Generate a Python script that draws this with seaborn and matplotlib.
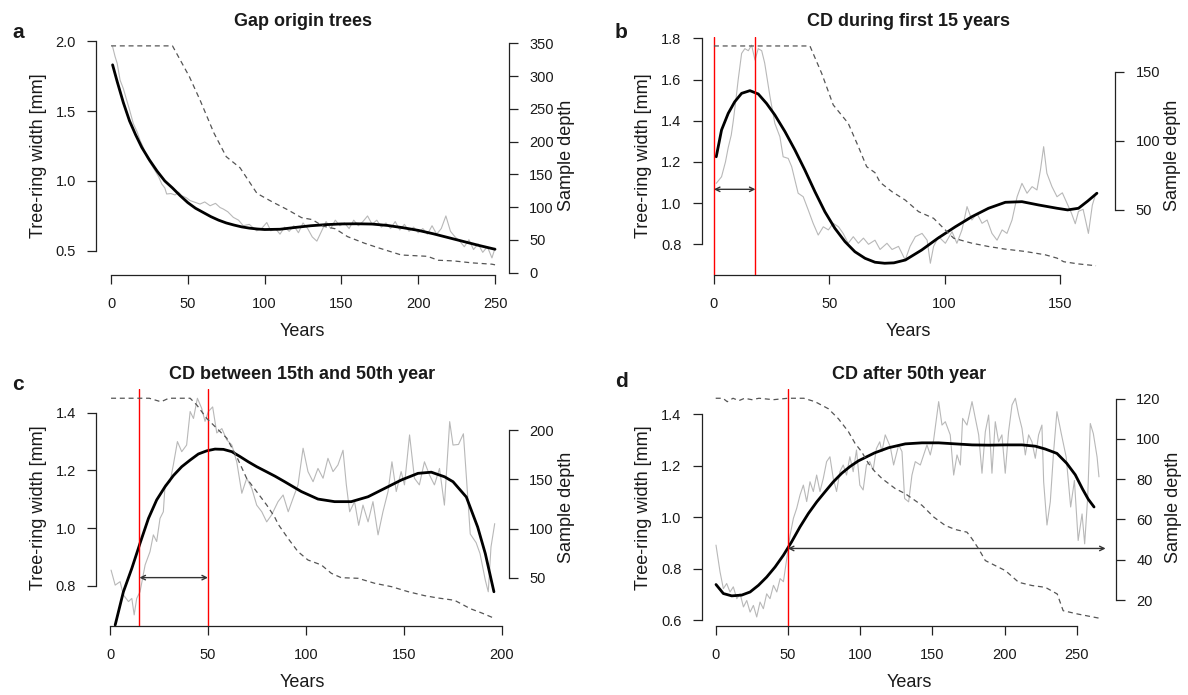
import matplotlib
matplotlib.use("Agg")
import matplotlib.pyplot as plt
import seaborn as sns

sns.set_style("ticks")
plt.rcParams["font.family"] = ["Liberation Sans", "DejaVu Sans"]

W, H = 1188, 695

# ---------------- panel a : gap origin trees ----------------
a_grey_yr = [1, 2.6, 4, 5.9, 8, 10.2, 12, 14.5, 17, 18.9, 21, 23.2, 26, 28.6, 31, 33, 35, 36.2,
             39, 41.7, 44, 46, 49, 51.4, 54, 57.9, 61, 64.5, 68, 71, 73, 76, 79.6, 83, 86.1, 90,
             94.8, 98, 101.4, 104, 107, 110, 113, 116, 119, 122, 125, 128, 131, 134, 137, 140,
             143, 146, 149, 152, 155, 158, 161, 164, 167, 170, 173, 176, 179, 182, 185, 188, 191,
             194, 197, 200, 203, 206, 209, 212, 215, 218, 221, 224, 227, 230, 233, 236, 239, 242,
             245, 248, 250]
a_grey_rw = [1.96, 1.89, 1.84, 1.72, 1.66, 1.577, 1.51, 1.41, 1.35, 1.29, 1.24, 1.17, 1.12, 1.074,
             1.03, 0.979, 0.95, 0.907, 0.91, 0.90, 0.92, 0.895, 0.88, 0.86, 0.85, 0.835, 0.85,
             0.823, 0.84, 0.81, 0.80, 0.78, 0.74, 0.72, 0.68, 0.69, 0.644, 0.66, 0.703, 0.644,
             0.66, 0.62, 0.67, 0.64, 0.68, 0.63, 0.70, 0.66, 0.60, 0.57, 0.64, 0.71, 0.66, 0.72,
             0.68, 0.70, 0.66, 0.72, 0.68, 0.71, 0.75, 0.69, 0.72, 0.67, 0.70, 0.66, 0.71, 0.65,
             0.69, 0.64, 0.67, 0.63, 0.66, 0.62, 0.68, 0.62, 0.66, 0.75, 0.64, 0.60, 0.57, 0.53,
             0.58, 0.51, 0.55, 0.49, 0.53, 0.45, 0.52]
a_fit_yr = [1, 4, 8, 12, 16, 20, 25, 30, 35, 40, 45, 50, 55, 60, 65, 70, 75, 80, 85, 90, 95, 100,
            110, 120, 130, 140, 150, 160, 170, 180, 190, 200, 210, 220, 230, 240, 250]
a_fit_rw = [1.83, 1.71, 1.56, 1.43, 1.33, 1.24, 1.15, 1.07, 1.0, 0.95, 0.895, 0.845, 0.805, 0.775,
            0.745, 0.72, 0.70, 0.685, 0.672, 0.663, 0.657, 0.653, 0.655, 0.668, 0.68, 0.688,
            0.693, 0.694, 0.692, 0.682, 0.666, 0.647, 0.622, 0.594, 0.566, 0.538, 0.512]
a_depth_yr = [0, 40, 51, 58, 67, 75, 84, 95, 105, 115, 124, 131, 138, 146, 154, 165, 174, 189,
              206, 213, 223, 235, 248, 250]
a_depth_n = [346, 346, 299, 263, 213, 177, 160, 121, 108, 96, 84, 81, 71, 67, 55, 45, 38, 27, 25,
             19, 18, 15, 13, 12]

# ---------------- panel b : CD during first 15 years ----------------
b_grey_yr = [1, 3.3, 5, 6.2, 7.5, 8.4, 9.5, 10.5, 12, 13.4, 14.9, 16.3, 17.8, 19.2, 20.7, 22,
             24.3, 26.4, 28.6, 30, 32.2, 33.7, 35.1, 36.5, 38.7, 40.9, 43, 45.2, 47.4, 49.6, 51.7,
             54, 56, 58.2, 60.4, 62.6, 64.8, 67, 69.8, 72, 75, 77.2, 80, 82.9, 85, 87.3, 90.2,
             92.4, 93.8, 95.2, 97.4, 100.3, 103.2, 105.3, 107.5, 109.7, 111.8, 114, 116.2, 118.4,
             120.5, 122.7, 124.9, 127, 129.2, 131.4, 133.5, 135.7, 137.9, 140, 141.5, 142.9,
             144.3, 146.5, 148.7, 151, 153, 155, 156.6, 158, 160, 161, 162.3, 164, 165.6]
b_grey_rw = [1.096, 1.128, 1.2, 1.27, 1.33, 1.40, 1.50, 1.598, 1.727, 1.75, 1.74, 1.767, 1.695,
             1.75, 1.74, 1.68, 1.517, 1.387, 1.322, 1.225, 1.217, 1.177, 1.112, 1.048, 1.031,
             0.966, 0.902, 0.845, 0.885, 0.87, 0.902, 0.885, 0.853, 0.805, 0.837, 0.805, 0.83,
             0.80, 0.82, 0.775, 0.805, 0.775, 0.79, 0.724, 0.79, 0.837, 0.853, 0.82, 0.708, 0.79,
             0.837, 0.805, 0.861, 0.805, 0.87, 0.983, 0.918, 0.95, 0.902, 0.918, 0.853, 0.82,
             0.87, 0.853, 0.918, 1.031, 1.096, 1.048, 1.08, 1.064, 1.16, 1.274, 1.145, 1.08,
             1.031, 1.05, 1.0, 0.95, 0.90, 0.96, 0.97, 0.92, 0.853, 0.99, 1.05]
b_fit_yr = [1, 3.3, 6.2, 9, 12, 15.6, 19.2, 22.8, 26.4, 30.8, 35.1, 39.4, 43.8, 48.1, 52.4, 56.8,
            61.1, 65.5, 69.8, 74, 78, 83, 90, 97, 104.6, 111.8, 119, 126.3, 133.5, 140.7, 148.7,
            153.3, 158, 162, 166]
b_fit_rw = [1.225, 1.355, 1.436, 1.492, 1.533, 1.546, 1.53, 1.484, 1.428, 1.347, 1.258, 1.161,
            1.055, 0.958, 0.878, 0.813, 0.764, 0.732, 0.713, 0.708, 0.710, 0.724, 0.772, 0.829,
            0.885, 0.934, 0.975, 1.004, 1.007, 0.991, 0.975, 0.967, 0.975, 1.01, 1.048]
b_depth_yr = [0, 41.6, 46.7, 51.7, 58.2, 62.6, 66.2, 69.8, 72, 77.2, 82.9, 88.7, 95.2, 98.8,
              103.9, 111.8, 119, 126.3, 135, 143.6, 148.7, 151.6, 158, 165.6]
b_depth_n = [168.6, 168.6, 148.8, 126, 112.7, 95.8, 81.3, 77, 70, 63.2, 57.2, 48.8, 44, 38, 29.6,
             26, 23.6, 21.7, 20, 17.6, 15.2, 12.6, 11, 9.7]

# ---------------- panel c : CD between 15th and 50th year ----------------
c_grey_yr = [0.5, 2.6, 5.1, 6.8, 9.4, 11.1, 12.3, 13.6, 15.3, 17.9, 20.4, 22.1, 23.8, 25.5, 27.2,
             28.1, 30.6, 32.3, 34.4, 36.6, 39.1, 40.9, 42.6, 44.6, 46.8, 48.5, 50.2, 52.4, 54.5,
             57.1, 59.6, 62.2, 64.7, 67.3, 69.8, 72.4, 74.9, 77.5, 80, 82.5, 85.8, 88.4, 91,
             93.5, 96, 98.6, 101.1, 103.7, 106.2, 108.8, 111.3, 113.9, 116.4, 119, 120.7, 122.4,
             124.9, 127, 129.2, 131.8, 134.3, 136.9, 139.4, 142, 144, 146.2, 148.7, 150.4, 153,
             155.5, 158, 160.6, 163.2, 165.7, 168.3, 170.8, 173.5, 175.2, 178, 180.5, 182, 184,
             187, 189, 191.7, 193.2, 194.6, 196.5]
c_grey_rw = [0.855, 0.803, 0.815, 0.769, 0.746, 0.757, 0.70, 0.757, 0.78, 0.873, 0.919, 0.977,
             0.954, 1.034, 1.057, 1.15, 1.16, 1.219, 1.30, 1.265, 1.288, 1.404, 1.38, 1.45, 1.415,
             1.37, 1.404, 1.42, 1.33, 1.345, 1.306, 1.288, 1.23, 1.121, 1.173, 1.138, 1.08, 1.057,
             1.022, 1.046, 1.092, 1.115, 1.057, 1.104, 1.15, 1.277, 1.196, 1.161, 1.207, 1.173,
             1.242, 1.196, 1.219, 1.27, 1.15, 1.057, 1.092, 1.01, 1.08, 1.022, 1.092, 0.977,
             1.057, 1.127, 1.23, 1.127, 1.196, 1.15, 1.323, 1.173, 1.15, 1.23, 1.184, 1.15, 1.207,
             1.08, 1.369, 1.288, 1.29, 1.327, 1.18, 0.98, 0.95, 0.912, 0.82, 0.78, 0.935, 1.016]
c_fit_yr = [2.6, 6.8, 11.1, 15.3, 19.6, 23.8, 28.1, 32.3, 36.6, 40.9, 45.1, 49.4, 53.6, 57.9,
            62.2, 66.4, 70.6, 74.9, 79.2, 84.3, 89.2, 97.7, 106.2, 114.7, 123.2, 131.8, 140.3,
            148.8, 157.3, 164.1, 170.9, 175.2, 182, 187.8, 191.7, 196.1]
c_fit_rw = [0.665, 0.78, 0.861, 0.948, 1.034, 1.098, 1.144, 1.182, 1.213, 1.236, 1.257, 1.268,
            1.274, 1.273, 1.265, 1.248, 1.23, 1.213, 1.198, 1.18, 1.161, 1.127, 1.101, 1.092,
            1.092, 1.109, 1.138, 1.167, 1.19, 1.194, 1.178, 1.161, 1.108, 1.004, 0.912, 0.78]
c_depth_yr = [0.5, 20, 26, 30, 40.9, 44.3, 49.4, 54.5, 59.6, 64.7, 69.8, 74.9, 80, 84, 86, 90.9,
              96, 101.1, 107.9, 113, 118.1, 126.7, 135.2, 143.7, 152.2, 160.7, 167, 176, 184,
              190, 195.6]
c_depth_n = [232.6, 232.6, 229, 232.6, 232.6, 225.7, 212, 202, 192, 173, 151, 137.5, 124, 112,
             104, 90, 76.5, 68, 63, 54.5, 50, 49.4, 44.3, 40.9, 35.8, 31.7, 29.5, 27, 18.5, 14,
             9.3]

# ---------------- panel d : CD after 50th year ----------------
d_grey_yr = [0.2, 3, 5.3, 7.6, 9.9, 12.2, 14.6, 16.9, 19.2, 21.5, 23.8, 26.1, 28.4, 30.7, 33,
             35.3, 37.6, 40, 42.3, 44.6, 46.9, 49.2, 51.5, 53.8, 56.1, 58.4, 60.7, 63, 65.3, 67.6,
             69.9, 72.2, 74.5, 76.8, 79.1, 81.4, 83.7, 86, 88.3, 90.6, 92.9, 95.2, 97.5, 99.8,
             102.1, 104.4, 106.7, 109, 111.3, 113.6, 115.1, 117.4, 120.9, 123.2, 126.7, 129,
             130.8, 133.6, 135.9, 138.2, 141.7, 144, 146.3, 148.6, 150.9, 154.4, 156.7, 159,
             162.4, 164.8, 167.1, 169.4, 171, 174, 177.5, 179.8, 182.1, 184.4, 186.7, 189, 191.3,
             193.6, 195.9, 198.2, 200.5, 202.8, 205.2, 207.5, 209.8, 212.1, 214.4, 216.7, 219,
             221.3, 223.6, 225.9, 227.1, 229.4, 231.7, 234, 236.3, 239.3, 242.7, 245.8, 248.4,
             251, 253.7, 255.5, 257.6, 259.4, 261.5, 264.1, 265.4]
d_grey_rw = [0.892, 0.788, 0.723, 0.743, 0.71, 0.73, 0.684, 0.703, 0.652, 0.677, 0.632, 0.658,
             0.613, 0.671, 0.645, 0.703, 0.684, 0.736, 0.71, 0.762, 0.75, 0.84, 0.93, 0.996,
             1.035, 1.087, 1.125, 1.061, 1.138, 1.1, 1.164, 1.1, 1.151, 1.216, 1.235, 1.151, 1.1,
             1.177, 1.203, 1.164, 1.235, 1.177, 1.261, 1.125, 1.106, 1.203, 1.216, 1.183, 1.267,
             1.293, 1.255, 1.32, 1.274, 1.203, 1.281, 1.255, 1.073, 1.06, 1.164, 1.216, 1.203,
             1.242, 1.281, 1.242, 1.30, 1.449, 1.358, 1.371, 1.32, 1.164, 1.242, 1.203, 1.384,
             1.358, 1.449, 1.384, 1.32, 1.171, 1.332, 1.397, 1.171, 1.371, 1.293, 1.32, 1.171,
             1.332, 1.436, 1.462, 1.397, 1.345, 1.242, 1.32, 1.293, 1.229, 1.32, 1.358, 1.138,
             0.97, 1.06, 1.255, 1.41, 1.325, 1.234, 1.04, 1.143, 0.91, 1.013, 0.897, 1.078,
             1.364, 1.325, 1.234, 1.157]
d_fit_yr = [0.2, 5.3, 11.1, 18, 23.8, 29.6, 35.3, 41.1, 46.9, 52.6, 58.4, 64.2, 70, 75.7, 81.5,
            87.3, 93, 98.8, 104.6, 110, 119.7, 131.3, 142.8, 154.4, 165.9, 177.5, 189, 200.5,
            212.1, 221.3, 228.2, 236.3, 243, 249, 254, 258, 262]
d_fit_rw = [0.739, 0.704, 0.695, 0.698, 0.71, 0.736, 0.768, 0.807, 0.853, 0.905, 0.963, 1.015,
            1.06, 1.099, 1.138, 1.171, 1.197, 1.219, 1.235, 1.25, 1.27, 1.285, 1.289, 1.289,
            1.285, 1.281, 1.28, 1.281, 1.281, 1.276, 1.265, 1.248, 1.21, 1.165, 1.11, 1.07, 1.04]
d_depth_yr = [0, 5, 8, 12, 16, 20, 25, 30, 40, 50, 61, 68.8, 78, 85, 91.9, 96.5, 101.1, 105.7,
              110, 115.2, 124.4, 131.3, 142.9, 151, 159, 166, 174, 177.5, 182.1, 186.7, 193.6,
              200.6, 209.8, 219, 228.3, 236.5, 240.6, 251, 265.4]
d_depth_n = [120.2, 120.2, 118.5, 120.2, 119, 120.2, 119.5, 120.2, 119.5, 120.2, 120.2, 118.5,
             115, 110, 103.6, 97.8, 93.6, 87.9, 84, 80.3, 75.3, 72.8, 67, 61.2, 57, 55, 53.7, 50.4,
             45.4, 39.6, 37.1, 34.6, 28.8, 27.2, 26.3, 23, 14.7, 13, 11]

TXT = "#1a1a1a"
FS_TICK = 10.5
FS_LAB = 13


def add_axes_px(fig, x0, x1, y0, y1):
    return fig.add_axes([x0 / W, 1 - y1 / H, (x1 - x0) / W, (y1 - y0) / H])


def draw_panel(fig, box, letter, letter_xy, title, grey, fit, depth,
               xlim, xticks, ylim, yticks, ylim2, yticks2, red=(), arrow=None):
    ax = add_axes_px(fig, *box)
    ax2 = ax.twinx()

    sns.lineplot(x=grey[0], y=grey[1], ax=ax, color="#b8b8b8", linewidth=0.8, sort=False)
    sns.lineplot(x=fit[0], y=fit[1], ax=ax, color="black", linewidth=2.0, sort=False)
    sns.lineplot(x=depth[0], y=depth[1], ax=ax2, color="#555555", linewidth=0.9, sort=False)
    ax2.lines[-1].set_dashes([4, 3])

    for xv in red:
        ax.axvline(xv, color="red", linewidth=1.0, zorder=5)
    if arrow is not None:
        x0, x1, yv = arrow
        ax.annotate("", xy=(x1, yv), xytext=(x0, yv),
                    arrowprops=dict(arrowstyle="<->", color="#333333", lw=1.0,
                                    shrinkA=0, shrinkB=0, mutation_scale=8), zorder=6)

    ax.set_xlim(*xlim)
    ax.set_ylim(*ylim)
    ax2.set_ylim(*ylim2)
    ax.set_xticks(xticks)
    ax.set_yticks(yticks)
    ax2.set_yticks(yticks2)
    ax.set_yticklabels([f"{v:.1f}" for v in yticks])
    ax2.set_yticklabels([f"{v:g}" for v in yticks2])

    for s in ("top", "right"):
        ax.spines[s].set_visible(False)
    for s in ("top", "left", "bottom"):
        ax2.spines[s].set_visible(False)
    ax.spines["left"].set_bounds(yticks[0], yticks[-1])
    ax.spines["bottom"].set_bounds(xticks[0], xticks[-1])
    ax2.spines["right"].set_bounds(yticks2[0], yticks2[-1])
    for sp in (ax.spines["left"], ax.spines["bottom"], ax2.spines["right"]):
        sp.set_color("#222222")
        sp.set_linewidth(0.9)

    ax.tick_params(axis="both", length=6.5, width=0.9, color="#222222",
                   labelsize=FS_TICK, labelcolor=TXT)
    ax.tick_params(axis="x", pad=9)
    ax.tick_params(axis="y", pad=8)
    ax2.tick_params(axis="y", length=6.5, width=0.9, color="#222222",
                    labelsize=FS_TICK, labelcolor=TXT, pad=8)

    wpx = box[1] - box[0]
    hpx = box[3] - box[2]
    ax.set_xlabel("Years", fontsize=FS_LAB, color=TXT)
    ax.xaxis.set_label_coords(0.5, -56.5 / hpx)
    ax.xaxis.label.set_va("center")
    ax.set_ylabel("Tree-ring width [mm]", fontsize=FS_LAB, color=TXT)
    ax.yaxis.set_label_coords(-58 / wpx, 0.5)
    ax.yaxis.label.set_va("center")
    ax2.set_ylabel("Sample depth", fontsize=FS_LAB, color=TXT)
    ax2.yaxis.set_label_coords(1 + 57.5 / wpx, 0.5)
    ax2.yaxis.label.set_va("center")

    ax.set_title(title, fontsize=13, fontweight="bold", color=TXT, pad=7.5)
    fig.text(letter_xy[0] / W, 1 - letter_xy[1] / H, letter, fontsize=15,
             fontweight="bold", color=TXT, ha="center", va="center")
    return ax, ax2


fig = plt.figure(figsize=(W / 100, H / 100), dpi=100)

draw_panel(fig, (96, 509, 36.7, 275), "a", (18, 32), "Gap origin trees",
           (a_grey_yr, a_grey_rw), (a_fit_yr, a_fit_rw), (a_depth_yr, a_depth_n),
           xlim=(-9.8, 259.1), xticks=[0, 50, 100, 150, 200, 250],
           ylim=(0.328, 2.031), yticks=[0.5, 1.0, 1.5, 2.0],
           ylim2=(-3.5, 360), yticks2=[0, 50, 100, 150, 200, 250, 300, 350])

draw_panel(fig, (701.7, 1115.4, 36.7, 275), "b", (621, 32), "CD during first 15 years",
           (b_grey_yr, b_grey_rw), (b_fit_yr, b_fit_rw), (b_depth_yr, b_depth_n),
           xlim=(-5.3, 174), xticks=[0, 50, 100, 150],
           ylim=(0.651, 1.808), yticks=[0.8, 1.0, 1.2, 1.4, 1.6, 1.8],
           ylim2=(3.0, 175.3), yticks2=[50, 100, 150],
           red=(0, 18), arrow=(0, 18, 1.067))

draw_panel(fig, (96, 509, 389, 626), "c", (18, 384), "CD between 15th and 50th year",
           (c_grey_yr, c_grey_rw), (c_fit_yr, c_fit_rw), (c_depth_yr, c_depth_n),
           xlim=(-7.2, 203.8), xticks=[0, 50, 100, 150, 200],
           ylim=(0.6615, 1.482), yticks=[0.8, 1.0, 1.2, 1.4],
           ylim2=(0.85, 242), yticks2=[50, 100, 150, 200],
           red=(15, 50), arrow=(15, 50, 0.829))

draw_panel(fig, (701.7, 1116, 389, 626), "d", (621, 382), "CD after 50th year",
           (d_grey_yr, d_grey_rw), (d_fit_yr, d_fit_rw), (d_depth_yr, d_depth_n),
           xlim=(-9.7, 277.2), xticks=[0, 50, 100, 150, 200, 250],
           ylim=(0.578, 1.498), yticks=[0.6, 0.8, 1.0, 1.2, 1.4],
           ylim2=(7.1, 124.8), yticks2=[20, 40, 60, 80, 100, 120],
           red=(50,), arrow=(50, 270, 0.879))

fig.savefig("out.png", dpi=100)
